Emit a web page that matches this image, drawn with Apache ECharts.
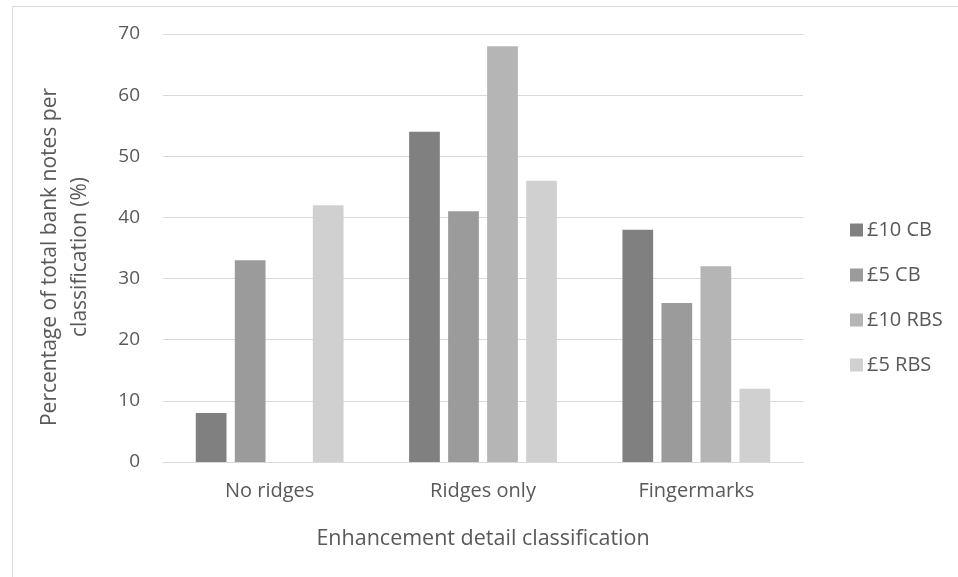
<!DOCTYPE html>
<html><head><meta charset="utf-8">
<script src="https://cdn.jsdelivr.net/npm/echarts@6/dist/echarts.min.js"></script>
<style>html,body{margin:0;padding:0;background:#fff}#c{width:958px;height:577px}</style>
</head><body><div id="c"></div>
<script>
const categories = ['No ridges', 'Ridges only', 'Fingermarks'];
const seriesNames = ['£10 CB', '£5 CB', '£10 RBS', '£5 RBS'];
const s10CB = [8, 54, 38];
const s5CB = [33, 41, 26];
const s10RBS = [0, 68, 32];
const s5RBS = [42, 46, 12];
const yTicks = [0, 10, 20, 30, 40, 50, 60, 70];
const colors = ['#808080', '#9b9b9b', '#b5b5b5', '#d0d0d0'];
const values = [s10CB, s5CB, s10RBS, s5RBS];
const FONT = '"Open Sans", sans-serif';

const chart = echarts.init(document.getElementById('c'), null, {renderer: 'canvas'});
chart.setOption({
  animation: false,
  textStyle: {fontFamily: FONT},
  graphic: [{
    type: 'rect', left: 10, top: 4, silent: true,
    shape: {width: 947, height: 590},
    style: {fill: 'none', stroke: '#d9d9d9', lineWidth: 1}
  }],
  grid: {left: 163, right: 155, top: 34, bottom: 115},
  legend: {
    orient: 'vertical', left: 845, top: 215,
    itemWidth: 13, itemHeight: 13, itemGap: 25,
    icon: 'rect',
    data: seriesNames,
    textStyle: {fontFamily: FONT, fontSize: 20, color: '#595959', lineHeight: 20, padding: [0, 0, 0, -1]}
  },
  xAxis: {
    type: 'category', data: categories,
    axisLine: {lineStyle: {color: '#d9d9d9', width: 1}},
    axisTick: {show: false},
    axisLabel: {fontFamily: FONT, fontSize: 20, color: '#595959', margin: 19},
    name: 'Enhancement detail classification',
    nameLocation: 'middle', nameGap: 66,
    nameTextStyle: {fontFamily: FONT, fontSize: 21.5, color: '#595959'}
  },
  yAxis: {
    type: 'value', min: 0, max: 70, interval: 10,
    axisLine: {show: false}, axisTick: {show: false},
    splitLine: {lineStyle: {color: '#d9d9d9', width: 1}},
    axisLabel: {fontFamily: FONT, fontSize: 19, color: '#595959', margin: 23,
      formatter: v => yTicks.includes(v) ? String(v) : ''},
    name: 'Percentage of total bank notes per\nclassification (%)',
    nameLocation: 'middle', nameGap: 68,
    nameTextStyle: {fontFamily: FONT, fontSize: 21, color: '#595959', lineHeight: 30, padding: [0, 18, 0, 0]}
  },
  series: seriesNames.map((n, i) => ({
    name: n, type: 'bar', data: values[i],
    barWidth: '14.4%', barGap: '27%',
    itemStyle: {color: colors[i]}
  }))
});
</script></body></html>
